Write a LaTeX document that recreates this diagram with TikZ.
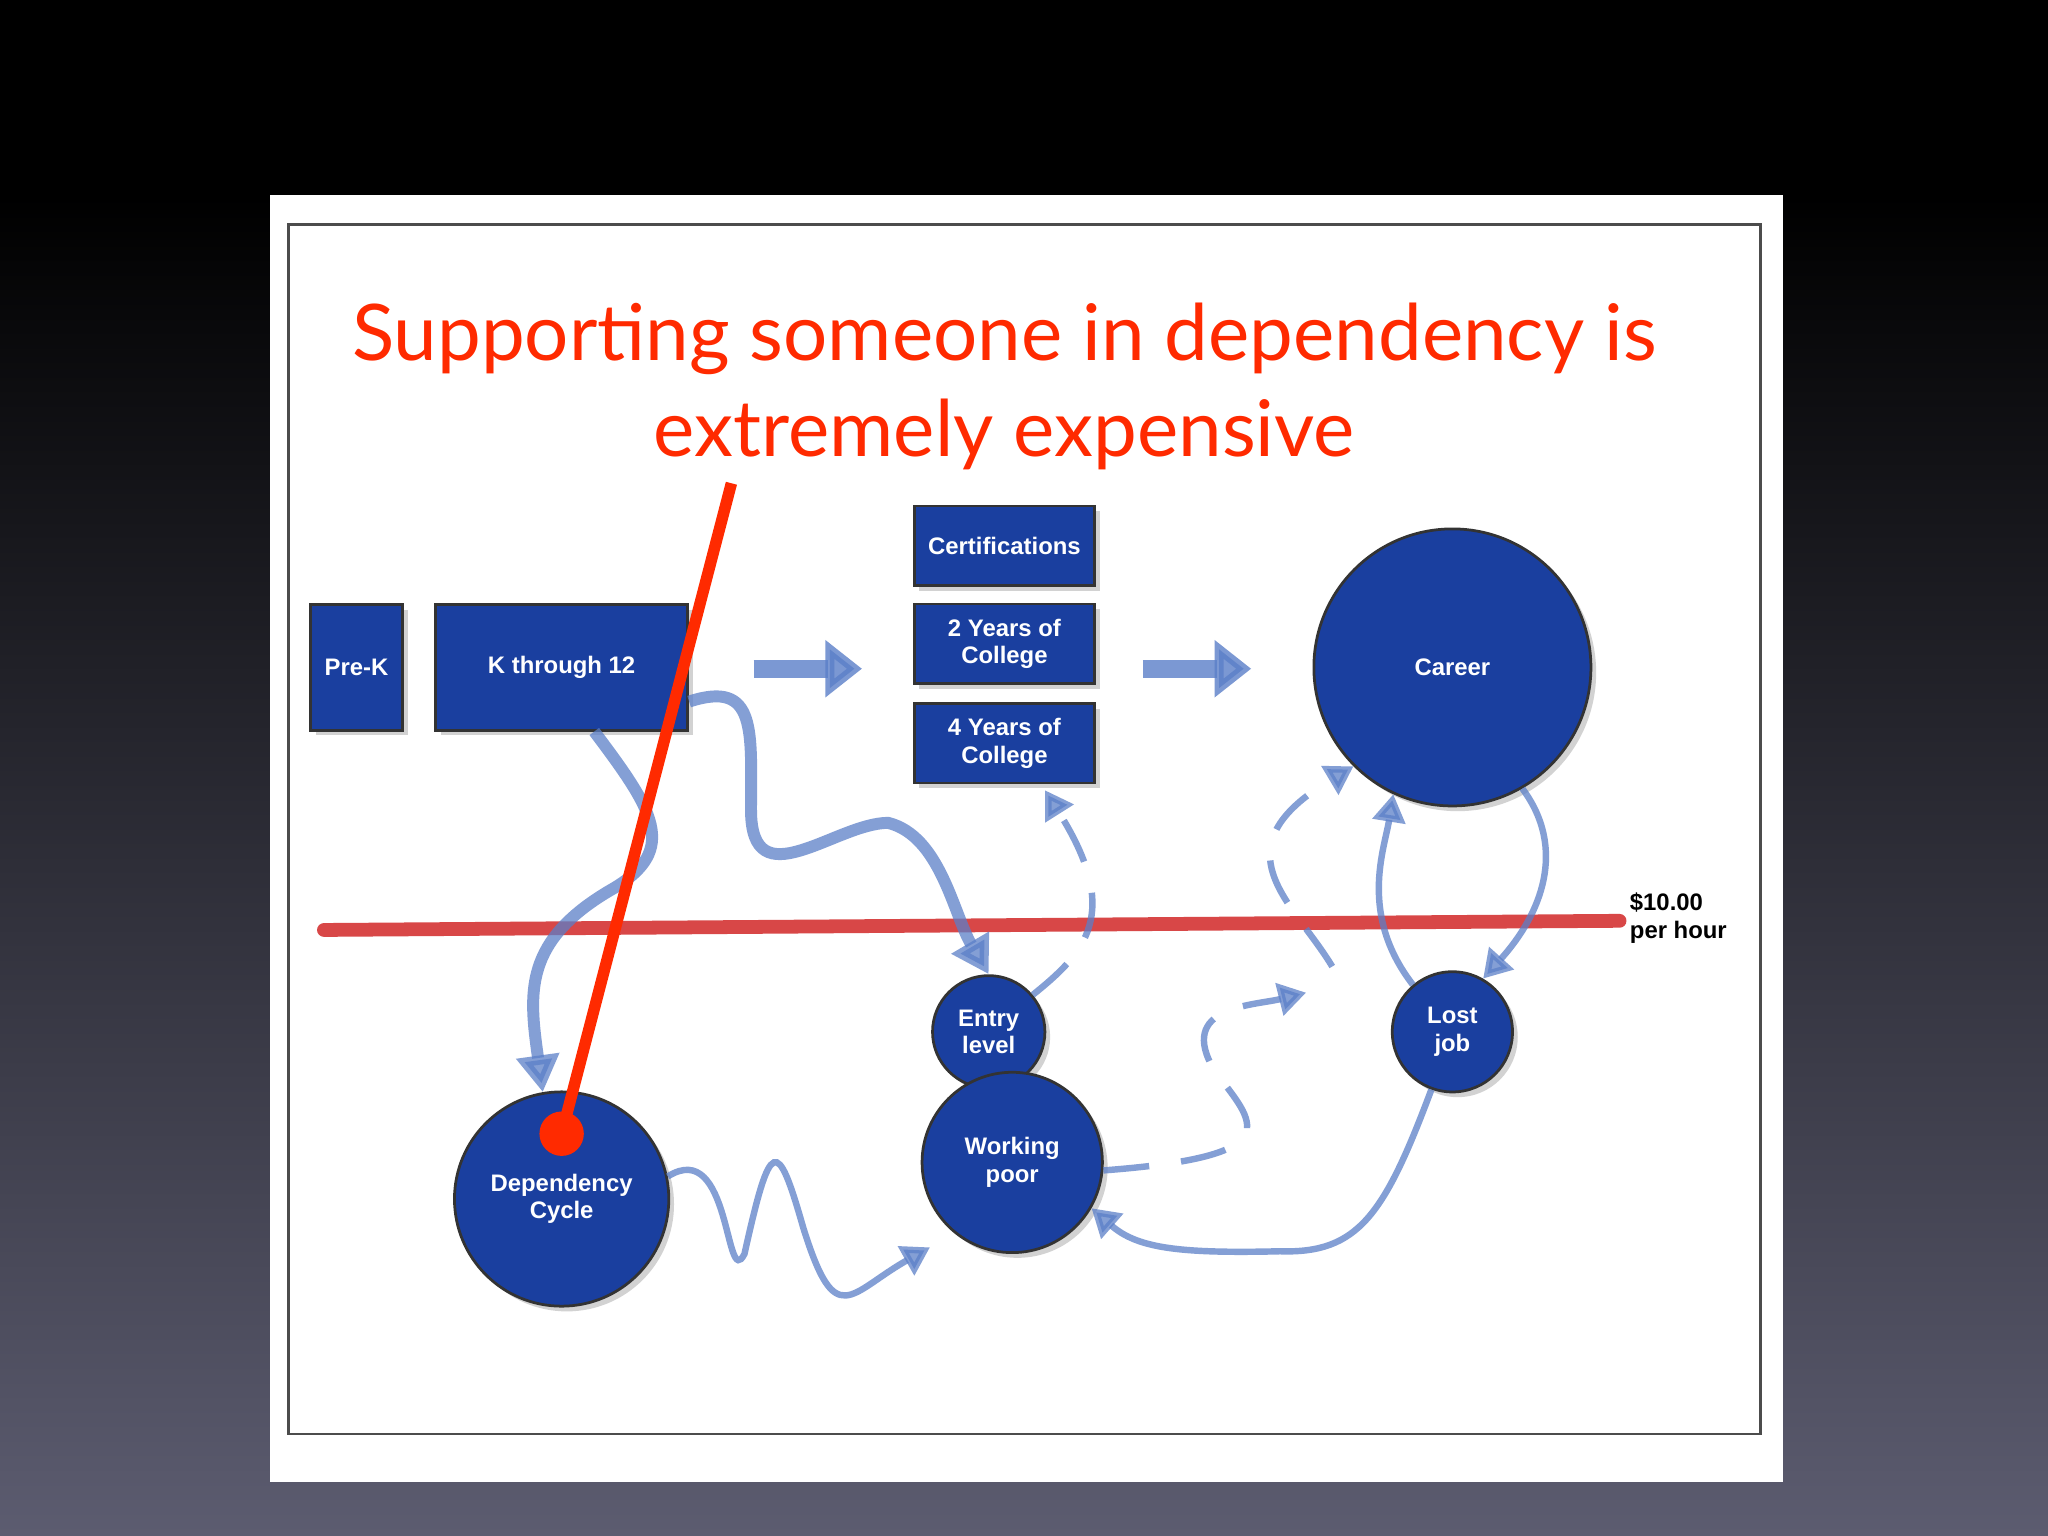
\documentclass[tikz,border=0pt]{standalone}
\usepackage{fontspec}
\setmainfont{Liberation Sans}
\newfontfamily\titlefont{Lato}
\usetikzlibrary{shadows,arrows.meta}
\definecolor{nodeblue}{HTML}{1A3F9F}
\definecolor{arrowblue}{HTML}{5B7FC8}
\definecolor{titlered}{HTML}{FF2A00}
\definecolor{linered}{HTML}{D43434}
\tikzset{
 bx/.style={draw=black!80,fill=nodeblue,line width=0.6pt,text=white,font=\bfseries\fontsize{5.2pt}{6pt}\selectfont,align=center,inner sep=0pt,drop shadow={opacity=0.35,shadow xshift=0.04cm,shadow yshift=-0.04cm}},
 circ/.style={bx,circle},
 flow/.style={draw=arrowblue,opacity=0.75,line width=2.6pt,-{Triangle[length=8pt,width=9pt]}},
 thinflow/.style={draw=arrowblue,opacity=0.75,line width=1.4pt,-{Triangle[length=6pt,width=7pt]}},
 dashflow/.style={thinflow,dash pattern=on 10pt off 7pt},
 fat/.style={draw=arrowblue,opacity=0.8,line width=4pt,-{Triangle[length=8pt,width=12pt]}}
}
\begin{document}
\begin{tikzpicture}[x=0.01cm,y=-0.01cm]
\useasboundingbox (0,0) rectangle (1568,1176);
\fill[black] (0,0) rectangle (1568,150);
\shade[top color=black,bottom color={rgb,255:red,92;green,92;blue,112}] (0,149.5) rectangle (1568,1176);
\fill[white] (207,149) rectangle (1365,1135);
\draw[black!70,line width=0.6pt] (221,172) rectangle (1348,1098);
\node[font=\titlefont\fontsize{17pt}{21pt}\selectfont,text=titlered,align=center] (title) at (769,296) {Supporting someone in dependency is\\extremely expensive};
% boxes
\node[bx,minimum width=0.70cm,minimum height=0.96cm] (prek) at (273,511) {Pre-K};
\node[bx,minimum width=1.93cm,minimum height=0.96cm] (k12) at (430,511) {K through 12};
\node[bx,minimum width=1.38cm,minimum height=0.61cm] (cert) at (769,418) {Certifications};
\node[bx,minimum width=1.38cm,minimum height=0.61cm] (two) at (769,493) {2 Years of\\College};
\node[bx,minimum width=1.38cm,minimum height=0.61cm] (four) at (769,569) {4 Years of\\College};
\node[circ,minimum size=2.12cm] (career) at (1112,511) {Career};
\node[circ,minimum size=0.86cm] (entry) at (757,790) {Entry\\level};
\node[circ,minimum size=1.38cm] (poor) at (775,890) {Working\\poor};
\node[circ,minimum size=0.92cm] (lost) at (1112,790) {Lost\\job};
\node[circ,minimum size=1.64cm] (dep) at (430,918) {Dependency\\Cycle};
% red line
\coordinate (rl1) at (248,712); \coordinate (rl2) at (1240,705);
\draw[linered,line width=3pt,line cap=round,opacity=0.9] (rl1) -- (rl2);
\node[font=\bfseries\fontsize{5.2pt}{6.2pt}\selectfont,align=left] (wage) at (1285,703) {\$10.00\\per hour};
% fat arrows
\coordinate (f1a) at (577,512); \coordinate (f1b) at (660,512);
\coordinate (f2a) at (875,512); \coordinate (f2b) at (958,512);
\draw[fat] (f1a) -- (f1b);
\draw[fat] (f2a) -- (f2b);
% flows
\draw[flow] (k12.south) ++(25,0) .. controls (500,620) and (520,650) .. (470,680) .. controls (400,720) and (405,760) .. (dep.100);
\draw[flow] (k12.-15) .. controls (580,520) and (575,560) .. (575,620) .. controls (575,690) and (640,630) .. (680,630) .. controls (720,640) and (730,700) .. (entry.north);
\draw[dashflow] (entry.40) .. controls (830,730) and (860,700) .. (800,605);
\draw[thinflow] (dep.12) .. controls (560,870) and (555,990) .. (570,960) .. controls (590,870) and (595,870) .. (615,940) .. controls (640,1020) and (650,990) .. (712,955);
\draw[dashflow] (poor.-5) .. controls (990,885) and (960,860) .. (930,820) .. controls (900,770) and (960,770) .. (1000,760);
\coordinate (dstart) at (1020,740);
\draw[dashflow] (dstart) .. controls (990,690) and (930,650) .. (career.225);
\draw[thinflow] (career.-60) .. controls (1200,650) and (1180,700) .. (lost.60);
\draw[thinflow] (lost.130) .. controls (1040,700) and (1060,650) .. (career.-115);
\draw[thinflow] (lost.250) .. controls (1060,930) and (1040,960) .. (980,958) .. controls (900,960) and (870,955) .. (poor.-30);
% pointer
\coordinate (p1) at (560,370);
\coordinate (p2) at (430,868);
\draw[titlered,line width=2.5pt] (p1) -- (p2);
\fill[titlered] (p2) circle (17);
\end{tikzpicture}
\end{document}
